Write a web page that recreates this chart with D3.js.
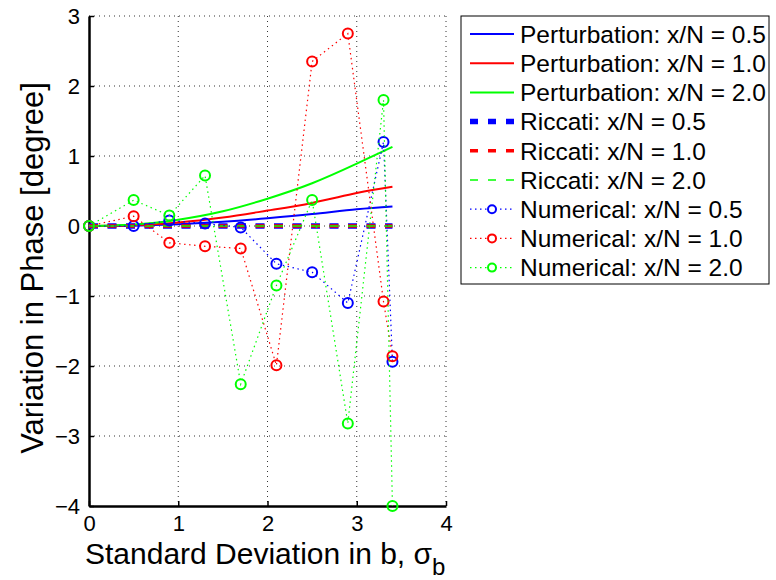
<!DOCTYPE html>
<html>
<head>
<meta charset="utf-8">
<script src="https://cdn.jsdelivr.net/npm/d3@7"></script>
<style>
  html, body { margin: 0; padding: 0; background: #fff; }
  svg { display: block; font-family: "Liberation Sans", Arial, Helvetica, sans-serif; }
</style>
</head>
<body>
<svg id="chart" width="776" height="580"></svg>
<script>
// ---- data ----
const seriesLabels = ["x/N = 0.5", "x/N = 1.0", "x/N = 2.0"];
const seriesColors = ["#0000ff", "#ff0000", "#00ff00"];

// Perturbation (smooth curves)
const pertX = [0, 0.5, 1.0, 1.5, 2.0, 2.5, 3.0, 3.4];
const pert05 = [0, 0.005, 0.025, 0.06, 0.11, 0.17, 0.24, 0.28];
const pert10 = [0, 0.01, 0.05, 0.12, 0.22, 0.33, 0.47, 0.56];
const pert20 = [0, 0.02, 0.09, 0.21, 0.39, 0.61, 0.89, 1.13];

// Riccati (flat at zero)
const ricX = [0, 3.4];
const ric05 = [0, 0];
const ric10 = [0, 0];
const ric20 = [0, 0];

// Numerical
const numX = [0, 0.5, 0.9, 1.3, 1.7, 2.1, 2.5, 2.9, 3.3, 3.4];
const num05 = [0, 0.0, 0.08, 0.035, -0.02, -0.54, -0.66, -1.10, 1.20, -1.94];
const num10 = [0, 0.14, -0.24, -0.29, -0.32, -1.99, 2.35, 2.75, -1.08, -1.86];
const num20 = [0, 0.37, 0.15, 0.72, -2.26, -0.85, 0.37, -2.82, 1.80, -4.0];

const xTicks = [0, 1, 2, 3, 4];
const yTicks = [-4, -3, -2, -1, 0, 1, 2, 3];

// ---- layout ----
const svg = d3.select("#chart");
const x = d3.scaleLinear().domain([0, 4]).range([89, 446]);
const y = d3.scaleLinear().domain([-4, 3]).range([506, 16]);

// grid
const grid = svg.append("g");
grid.selectAll(".gx").data(xTicks.filter(d => d > 0)).enter().append("line")
  .attr("x1", d => x(d)).attr("x2", d => x(d)).attr("y1", y(3)).attr("y2", y(-4))
  .attr("stroke", "#333").attr("stroke-width", 1).attr("stroke-dasharray", "1,4");
grid.selectAll(".gy").data(yTicks.filter(d => d > -4)).enter().append("line")
  .attr("x1", x(0)).attr("x2", x(4)).attr("y1", d => y(d)).attr("y2", d => y(d))
  .attr("stroke", "#333").attr("stroke-width", 1).attr("stroke-dasharray", "1,4");

// axes
const xAxis = d3.axisBottom(x).tickValues(xTicks).tickSizeInner(-5).tickSizeOuter(0).tickPadding(9)
  .tickFormat(d => String(d));
const yAxis = d3.axisLeft(y).tickValues(yTicks).tickSizeInner(-5).tickSizeOuter(0).tickPadding(9)
  .tickFormat(d => d < 0 ? "\u2212" + Math.abs(d) : String(d));

const gx = svg.append("g").attr("transform", `translate(0,${y(-4)})`).call(xAxis);
const gy = svg.append("g").attr("transform", `translate(${x(0)},0)`).call(yAxis);
[gx, gy].forEach(g => {
  g.select(".domain").attr("stroke", "#000").attr("stroke-width", 2.5);
  g.selectAll(".tick line").attr("stroke", "#000").attr("stroke-width", 1.5);
  g.selectAll(".tick text").attr("fill", "#000").style("font-size", "22px")
    .style("font-family", "'Liberation Sans', Arial, sans-serif");
});
gy.selectAll(".tick text").attr("dy", "0.36em");

// axis titles
const xt = svg.append("text")
  .attr("x", 85).attr("y", 564)
  .style("font-size", "30px").attr("fill", "#000");
xt.append("tspan").text("Standard Deviation in b, ");
xt.append("tspan").text("\u03c3");
xt.append("tspan").attr("dy", 11).style("font-size", "24px").text("b");

svg.append("text")
  .attr("transform", "translate(43,268) rotate(-90)")
  .attr("text-anchor", "middle")
  .style("font-size", "31px").attr("fill", "#000")
  .text("Variation in Phase [degree]");

// lines
const plot = svg.append("g");
const line = (xs) => d3.line().x((d, i) => x(xs[i])).y(d => y(d));
const smooth = (xs) => d3.line().x((d, i) => x(xs[i])).y(d => y(d)).curve(d3.curveNatural);

const pertData = [pert05, pert10, pert20];
const ricData = [ric05, ric10, ric20];
const numData = [num05, num10, num20];
const ricWidths = [5.5, 3.5, 1.6];

pertData.forEach((s, k) => {
  plot.append("path").attr("d", smooth(pertX)(s)).attr("fill", "none")
    .attr("stroke", seriesColors[k]).attr("stroke-width", 2);
});
ricData.forEach((s, k) => {
  plot.append("path").attr("d", line(ricX)(s)).attr("fill", "none")
    .attr("stroke", seriesColors[k]).attr("stroke-width", ricWidths[k])
    .attr("stroke-dasharray", "9,9.5");
});
numData.forEach((s, k) => {
  plot.append("path").attr("d", line(numX)(s)).attr("fill", "none")
    .attr("stroke", seriesColors[k]).attr("stroke-width", 1.2)
    .attr("stroke-dasharray", "1.5,3.5");
  plot.selectAll(null).data(s).enter().append("circle")
    .attr("cx", (d, i) => x(numX[i])).attr("cy", d => y(d)).attr("r", 5)
    .attr("fill", "none").attr("stroke", seriesColors[k]).attr("stroke-width", 2);
});

// legend
const lg = svg.append("g");
lg.append("rect").attr("x", 461).attr("y", 16).attr("width", 308).attr("height", 268)
  .attr("fill", "#fff").attr("stroke", "#000").attr("stroke-width", 1);
const entries = [];
["Perturbation", "Riccati", "Numerical"].forEach((type, t) => {
  seriesLabels.forEach((lab, k) => entries.push({type, t, k, label: type + ": " + lab}));
});
entries.forEach((e, i) => {
  const cy = 34 + i * 29.2;
  const c = seriesColors[e.k];
  if (e.t === 0) {
    lg.append("line").attr("x1", 470).attr("x2", 514).attr("y1", cy).attr("y2", cy)
      .attr("stroke", c).attr("stroke-width", 2);
  } else if (e.t === 1) {
    lg.append("line").attr("x1", 470).attr("x2", 514).attr("y1", cy).attr("y2", cy)
      .attr("stroke", c).attr("stroke-width", ricWidths[e.k]).attr("stroke-dasharray", "8,10");
  } else {
    lg.append("line").attr("x1", 470).attr("x2", 514).attr("y1", cy).attr("y2", cy)
      .attr("stroke", c).attr("stroke-width", 1.2).attr("stroke-dasharray", "1.5,3.5");
    lg.append("circle").attr("cx", 492).attr("cy", cy).attr("r", 4)
      .attr("fill", "#fff").attr("stroke", c).attr("stroke-width", 2);
  }
  lg.append("text").attr("x", 520).attr("y", cy).attr("dy", "0.36em")
    .style("font-size", "24.5px").attr("fill", "#000").text(e.label);
});
</script>
</body>
</html>
